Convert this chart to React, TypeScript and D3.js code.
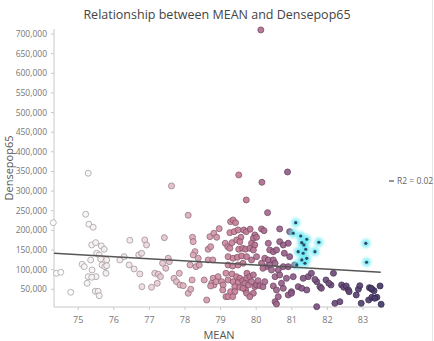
import React, { useEffect } from "react";
import * as d3 from "d3";

const meanVals: number[] = [
  74.3, 75.28, 75.21, 75.3, 75.42, 74.39, 74.51, 74.79, 75.11, 75.17, 75.38, 75.49, 75.35, 75.52, 75.59, 75.65, 75.73, 75.63, 75.8, 75.39,
  75.28, 75.5, 75.38, 75.25, 75.67, 75.75, 75.8, 75.78, 75.48, 75.56, 75.59, 76.17, 76.29, 76.45, 76.43, 76.57, 76.7, 76.78, 76.73, 76.79,
  76.87, 76.92,
  77.62, 78.09, 77.42, 77.06, 77.15, 77.25, 77.22, 77.31, 77.37, 77.46, 77.53, 77.56, 77.69, 77.76, 77.84, 77.86, 77.95, 78.09, 78.16, 78.14,
  78.21, 78.23, 78.28, 78.23, 78.37, 78.31, 78.4, 78.2, 78.54, 78.61, 78.65, 78.72, 78.7, 78.81, 78.89, 78.96, 78.65, 78.78, 78.79, 78.75,
  78.81, 78.72, 78.93, 78.87, 79.03, 79.07, 79.06, 79.15,
  79.28, 79.35, 79.42, 79.26, 79.38, 79.49, 79.57, 79.13, 79.2, 79.32, 79.45, 79.54, 79.65, 79.51, 79.62, 79.26, 79.21, 79.35, 79.47, 79.59,
  79.21, 79.34, 79.49, 79.63, 79.15, 79.32, 79.45, 79.54, 79.21, 79.35, 79.49, 79.62, 79.4, 79.54, 79.28, 79.4, 79.21, 79.34, 79.72, 79.7,
  79.74, 79.7, 79.72, 79.51,
  80.88, 80.16, 80.32, 79.83, 79.96, 79.92, 80.01, 80.15, 80.22, 79.87, 79.96, 79.82, 79.92, 79.73, 79.87, 80.01, 79.73, 79.82, 79.92, 79.68,
  79.78, 79.87, 79.96, 79.63, 79.73, 79.92, 79.82, 80.01, 80.05, 80.1, 80.19, 80.24, 80.15, 80.24, 80.34, 80.29, 80.19, 80.38, 80.48, 80.53,
  80.38, 80.48, 80.57, 80.34, 80.66, 80.76, 80.9, 80.66, 80.94, 80.79, 80.94, 80.43, 80.62, 80.76, 80.53, 80.66, 80.85, 81.04, 80.71, 80.48,
  80.57, 80.76, 80.99, 81.18, 81.28, 81.42, 80.62, 80.53, 80.57, 80.9, 80.99, 81.46, 81.55, 81.7, 81.79, 81.7, 81.32, 80.9, 81.08,
  82.17, 82.1, 82.4, 82.46, 82.53, 82.59, 82.61, 82.81, 82.87, 83.18, 83.25, 83.31, 83.48, 82.21, 82.35, 82.95, 83.16, 83.25, 83.39, 83.51,
  81.96, 82.04, 81.65, 81.83, 82.91, 83.23, 83.33,
  80.13,
];

const popVals: number[] = [
  219600, 345500, 241000, 215600, 208000, 90800, 93300, 42400, 113700, 107600, 162800, 168700, 124600, 141700, 137400, 160300, 151900, 127200, 124600, 99100,
  82100, 82100, 80600, 65300, 111900, 107600, 110100, 90800, 44900, 44900, 33700, 124600, 133000, 174800, 111900, 101700, 137400, 141700, 89000, 56600,
  175600, 162800,
  313100, 238500, 181400, 55100, 90800, 88200, 65300, 82100, 116200, 103500, 128900, 120300, 78000, 69400, 90800, 60900, 59200, 39800, 50000, 111900,
  182400, 171200, 145800, 137400, 128900, 107600, 111900, 73700, 73700, 22700, 151900, 158500, 184000, 192600, 182400, 204300, 124600, 124600, 78000, 65300,
  60900, 58400, 82100, 69400, 69400, 60900, 48200, 31200,
  222200, 226500, 219600, 194200, 196700, 201000, 182400, 167100, 158500, 168700, 175600, 171200, 201000, 151900, 154400, 154400, 133000, 128900, 131500, 134800,
  111900, 109300, 111900, 116200, 90800, 89000, 82100, 78000, 73700, 69400, 66800, 71900, 56600, 55100, 43900, 43900, 31200, 31200, 196700, 151900,
  90800, 48200, 277400, 341100,
  348700, 322500, 245100, 203000, 188300, 179900, 182400, 203600, 199300, 167100, 162800, 154400, 150100, 133000, 124600, 133000, 78000, 82100, 86400, 65300,
  60900, 69400, 56600, 52500, 39800, 39800, 31200, 60900, 71900, 59200, 56600, 69400, 116200, 128900, 124600, 107600, 103500, 111900, 124600, 116200,
  150100, 145800, 150100, 167100, 171200, 162800, 167100, 203600, 196700, 141700, 133000, 99100, 99100, 107600, 82100, 86400, 78000, 82100, 65300, 58400,
  48200, 52500, 43900, 56600, 52500, 48200, 31200, 18400, 12600, 35500, 39800, 82100, 90800, 69400, 56600, 5700, 78000, 107600, 111900,
  90800, 60900, 61000, 55100, 58400, 48200, 43900, 35500, 50000, 54100, 50000, 46400, 58400, 14300, 18400, 14300, 22700, 29600, 29600, 11800,
  73700, 65300, 75000, 52500, 59000, 52500, 27000,
  710400,
];

const hiMean: number[] = [81.11, 81.04, 81.25, 81.42, 81.76, 81.28, 81.34, 81.18, 81.39, 81.32, 81.65, 81.42, 81.28, 81.14, 81.37, 83.08, 83.1];
const hiPop: number[] = [219600, 192600, 185700, 177300, 169700, 168700, 162800, 145800, 151900, 141700, 145800, 128900, 124600, 111900, 116200, 167100, 118800];

const trendMean: number[] = [74.32, 83.5];
const trendPop: number[] = [141700, 93300];

const xTicks: number[] = [75, 76, 77, 78, 79, 80, 81, 82, 83];
const yTicks: number[] = [50000, 100000, 150000, 200000, 250000, 300000, 350000, 400000, 450000, 500000, 550000, 600000, 650000, 700000];

const titleText = "Relationship between MEAN and Densepop65";
const xLabel = "MEAN";
const yLabel = "Densepop65";
const legendText = "R2 = 0.02";

const W = 434;
const H = 341;
const FONT = "'Open Sans', 'Noto Sans', sans-serif";

export default function App() {
  useEffect(() => {
    document.body.style.margin = "0";
  }, []);

  const x = d3.scaleLinear().domain([74.32, 83.59]).range([54, 384]);
  const y = d3.scaleLinear().domain([5600, 712000]).range([306.7, 29.3]);
  const color = d3
    .scaleLinear<string>()
    .domain([74.3, 76.5, 78.2, 79.5, 81, 83.5])
    .range(["#ffffff", "#f2e6e8", "#dcaab9", "#c77d98", "#8e5a89", "#45396b"])
    .interpolate(d3.interpolateRgb)
    .clamp(true);

  const fmt = d3.format(",");
  const pts = meanVals.map((m, i) => ({ m, p: popVals[i] }));
  const hi = hiMean.map((m, i) => ({ m, p: hiPop[i] }));
  const line = d3
    .line<number>()
    .x((d) => x(d))
    .y((_, i) => y(trendPop[i]));

  return (
    <svg width={W} height={H} style={{ position: "absolute", left: 0, top: 0, background: "#fff" }} fontFamily={FONT}>
      <defs>
        <filter id="glow" x="-100%" y="-100%" width="300%" height="300%">
          <feGaussianBlur stdDeviation="1.5" />
        </filter>
      </defs>
      <rect x={0} y={0} width={W} height={H} fill="#fff" />
      <line x1={432.5} x2={432.5} y1={0} y2={H} stroke="#e6e6e6" />
      <text x={217} y={19} textAnchor="middle" fontSize={12.5} fill="#444">
        {titleText}
      </text>

      {/* y axis */}
      <line x1={54} x2={54} y1={29} y2={307} stroke="#c8c8c8" />
      {yTicks.map((t) => (
        <g key={t}>
          <line x1={51} x2={54} y1={y(t)} y2={y(t)} stroke="#c8c8c8" />
          <text x={47} y={y(t)} dy="0.35em" textAnchor="end" fontSize={8.5} fill="#777">
            {fmt(t)}
          </text>
        </g>
      ))}
      {/* x axis */}
      <line x1={54} x2={384} y1={307} y2={307} stroke="#c8c8c8" />
      {xTicks.map((t) => (
        <g key={t}>
          <line x1={x(t)} x2={x(t)} y1={307} y2={310} stroke="#c8c8c8" />
          <text x={x(t)} y={323} textAnchor="middle" fontSize={9} fill="#777">
            {t}
          </text>
        </g>
      ))}
      <text x={219} y={339} textAnchor="middle" fontSize={11} fill="#555">
        {xLabel}
      </text>
      <text transform={`translate(13,168) rotate(-90)`} textAnchor="middle" fontSize={11} fill="#555">
        {yLabel}
      </text>

      {/* points */}
      {pts.map((d, i) => {
        const f = color(d.m);
        const s = d3.color(f)!.darker(1.1).formatHex();
        return <circle key={i} cx={x(d.m)} cy={y(d.p)} r={3} fill={f} stroke={s} strokeWidth={0.9} opacity={0.92} />;
      })}

      {/* highlighted points */}
      {hi.map((d, i) => (
        <circle key={"g" + i} cx={x(d.m)} cy={y(d.p)} r={4.4} fill="#5ee8f2" opacity={0.75} filter="url(#glow)" />
      ))}
      {hi.map((d, i) => (
        <circle key={"c" + i} cx={x(d.m)} cy={y(d.p)} r={1.6} fill="#2c4a66" />
      ))}

      {/* trend line */}
      <path d={line(trendMean) || ""} fill="none" stroke="#555" strokeWidth={1.4} />

      {/* legend */}
      <line x1={389} x2={394} y1={181} y2={181} stroke="#555" strokeWidth={1.2} />
      <text x={397} y={181} dy="0.35em" fontSize={8.5} fill="#666">
        {legendText}
      </text>
    </svg>
  );
}
